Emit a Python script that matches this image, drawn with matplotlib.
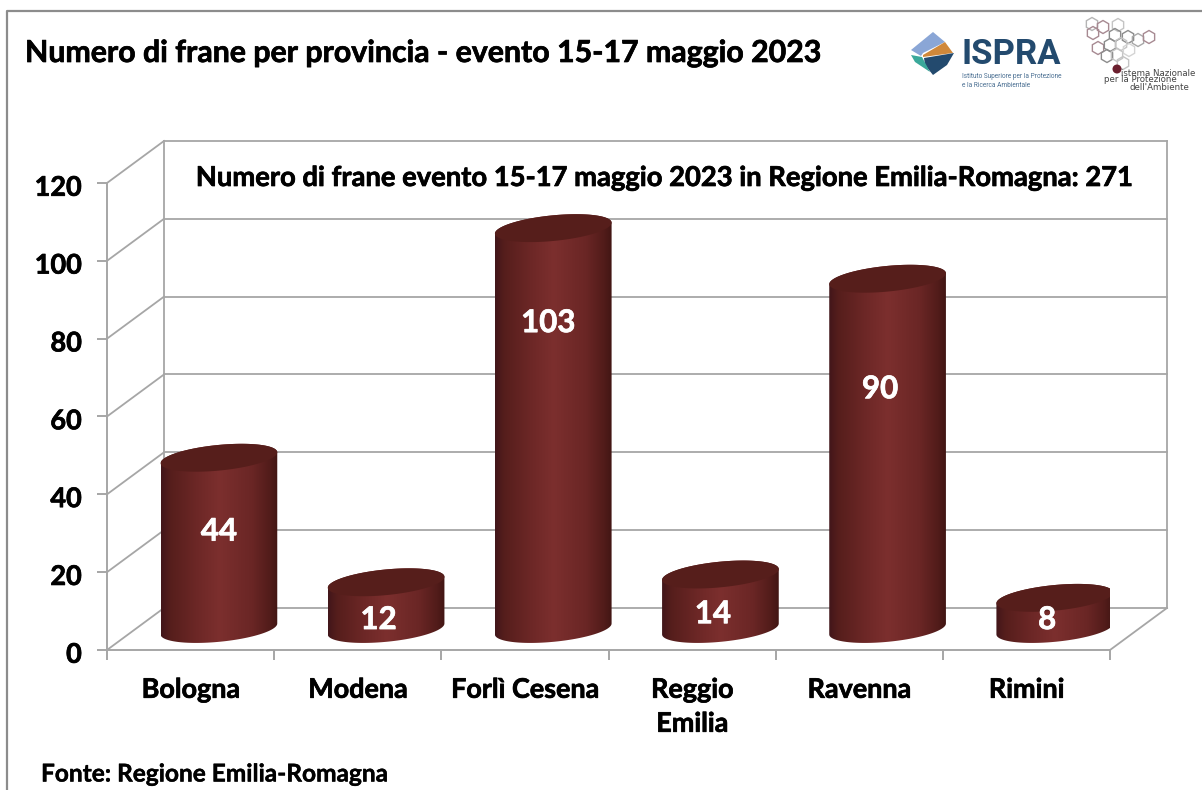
import numpy as np
import matplotlib
matplotlib.use('Agg')
import matplotlib.pyplot as plt
import matplotlib.patheffects as pe
from matplotlib.colors import LinearSegmentedColormap
from matplotlib.patches import Polygon, RegularPolygon, Circle
from matplotlib.transforms import ScaledTranslation

# Numero di frane per provincia
province = ['Bologna', 'Modena', 'Forlì Cesena', 'Reggio\nEmilia', 'Ravenna', 'Rimini']
frane = [44, 12, 103, 14, 90, 8]
yticks = [0, 20, 40, 60, 80, 100, 120]

title = 'Numero di frane per provincia - evento 15-17 maggio 2023'
subtitle = 'Numero di frane evento 15-17 maggio 2023 in Regione Emilia-Romagna: 271'
fonte = 'Fonte: Regione Emilia-Romagna'

plt.rcParams['font.family'] = ['Lato', 'DejaVu Sans']
GREY = '#a6a6a6'

def heavier(color='black', w=0.5):
    return [pe.withStroke(linewidth=w, foreground=color)]

fig = plt.figure(figsize=(12.02, 7.90), dpi=100, facecolor='white')

# overlay in pixels, for frame, logos and free text
px = fig.add_axes([0, 0, 1, 1])
px.set_xlim(0, 1202)
px.set_ylim(790, 0)
px.axis('off')

# front plane of the 3D box = real axes
ax = fig.add_axes([107/1202, (790-650)/790, 1003/1202, 467/790])
ax.patch.set_alpha(0)
ax.set_xlim(0, 6)
ax.set_ylim(0, 120)

# depth of the box (back wall) and of the cylinders, in data units
back_x, back_y = 0.341, 10.8
mid_x, mid_y = 0.1695, 5.4
rad_x, rad_b, rad_sh = 0.349, 3.3, 1.4

for s in ['top', 'right']:
    ax.spines[s].set_visible(False)
for s in ['left', 'bottom']:
    ax.spines[s].set_color(GREY)
    ax.spines[s].set_linewidth(1.4)

ax.set_yticks(yticks)
ax.set_yticklabels([str(v) for v in yticks], fontsize=19.5, fontweight='bold', color='black',
                   path_effects=heavier())
ax.tick_params(axis='y', length=7.2, width=1.4, color=GREY, pad=11)
# tick labels sit a little lower than the ticks
for lab in ax.get_yticklabels():
    lab.set_transform(lab.get_transform() + ScaledTranslation(0, -2/72, fig.dpi_scale_trans))
ax.set_xticks(range(7))
ax.set_xticklabels([])
ax.tick_params(axis='x', which='major', length=7.2, width=1.4, color=GREY)
ax.set_xticks(np.arange(6) + 0.5, minor=True)
ax.set_xticklabels(province, minor=True, fontsize=19.4, fontweight='bold', linespacing=1.5,
                   path_effects=heavier())
ax.tick_params(axis='x', which='minor', length=0, pad=20)

# walls
for v in yticks:
    ax.plot([0, back_x], [v, v + back_y], color=GREY, lw=1.3, clip_on=False, zorder=1)
    ax.plot([back_x, 6 + back_x], [v + back_y, v + back_y], color=GREY, lw=1.3, clip_on=False, zorder=1)
ax.plot([back_x, back_x], [back_y, 120 + back_y], color=GREY, lw=1.3, clip_on=False, zorder=1)
ax.plot([6 + back_x, 6 + back_x], [back_y, 120 + back_y], color=GREY, lw=1.3, clip_on=False, zorder=1)
ax.plot([6, 6 + back_x], [0, back_y], color=GREY, lw=1.3, clip_on=False, zorder=1)

# cylinders
cyl = LinearSegmentedColormap.from_list('cyl', [
    (0.0, '#42161a'), (0.08, '#561e1c'), (0.3, '#6c2726'), (0.5, '#7c2f2e'),
    (0.78, '#6a2625'), (0.93, '#521c1a'), (1.0, '#421614')])
grad = np.linspace(0, 1, 256).reshape(1, -1)
# the labels were placed by hand in the original
label_x = [0, -0.045, -0.03, -0.045, -0.045, -0.045]
label_y = [30.4, 7.7, 84, 9.2, 67, 7.7]

def ell(cx, cy, t):
    return np.column_stack([cx + rad_x*np.cos(t), cy + rad_sh*np.cos(t) + rad_b*np.sin(t)])

for i, v in enumerate(frane):
    cx = i + 0.5 + mid_x
    top = v + mid_y
    low = ell(cx, mid_y, np.linspace(np.pi, 2*np.pi, 60))
    up = ell(cx, top, np.linspace(0, np.pi, 60))
    body = Polygon(np.vstack([low, up]), closed=True, fc='none', ec='none', zorder=3)
    ax.add_patch(body)
    im = ax.imshow(grad, cmap=cyl, aspect='auto', zorder=3, interpolation='bilinear',
                   extent=[cx - rad_x, cx + rad_x, mid_y - 6, top + 6])
    im.set_clip_path(body)
    ax.add_patch(Polygon(ell(cx, top, np.linspace(0, 2*np.pi, 120)), closed=True,
                         fc='#561e1b', ec='none', zorder=4))
    ax.text(cx + label_x[i], label_y[i], str(v), color='white', fontsize=22.5, fontweight='bold',
            ha='center', va='center', zorder=5, path_effects=heavier('white'))
ax.set_xlim(0, 6)
ax.set_ylim(0, 120)

# frame and free text
px.plot([7, 7, 1202], [790, 11, 11], color='#8c8c8c', lw=1.6)
px.text(25, 53, title, fontsize=21.8, fontweight='bold', va='center', path_effects=heavier())
px.text(664, 178, subtitle, fontsize=19.7, fontweight='bold', va='center', ha='center', zorder=6,
        path_effects=heavier())
px.text(41, 774, fonte, fontsize=17.6, fontweight='bold', va='center', path_effects=heavier(w=0.3))

# logo ISPRA
px.add_patch(Polygon([(911, 50), (933, 32), (945, 42), (923, 53), (921, 56)], fc='#8aa6d6', ec='none'))
px.add_patch(Polygon([(923, 55), (945, 42), (953, 53), (923, 57)], fc='#d0883a', ec='none'))
px.add_patch(Polygon([(924, 58), (954, 53), (947, 65), (933, 75), (925, 65)], fc='#234a6e', ec='none'))
px.add_patch(Polygon([(911, 55), (922, 57), (930, 72), (915, 62)], fc='#3aa89a', ec='none'))
px.text(961, 54, 'ISPRA', fontsize=25, fontweight='bold', color='#234a6e', va='center', family='Roboto')
px.text(962, 76.5, 'Istituto Superiore per la Protezione', fontsize=4.7, color='#4a6f92', va='center', family='Roboto')
px.text(962, 85.5, 'e la Ricerca Ambientale', fontsize=4.7, color='#4a6f92', va='center', family='Roboto')

# logo SNPA
hex_x = [1092, 1103, 1118, 1093, 1115, 1128, 1138, 1149, 1098, 1110, 1121, 1107, 1117, 1129, 1123]
hex_y = [24, 27, 25, 33, 35, 37, 40, 37, 48, 45, 44, 56, 55, 50, 63]
hex_c = ['#b5b5b5', '#a78a92', '#c4c4c4', '#a78a92', '#8c8c8c', '#8c8c8c', '#a8a8a8', '#a78a92',
         '#a78a92', '#8c8c8c', '#c4c4c4', '#8c8c8c', '#c4c4c4', '#d4d4d4', '#c4c4c4']
for hx, hy, hc in zip(hex_x, hex_y, hex_c):
    px.add_patch(RegularPolygon((hx, hy), 6, radius=6.5, fc='none', ec=hc, lw=1))
px.add_patch(Circle((1117, 69), 4.5, fc='#6b1f2e', ec='none'))
px.text(1121, 73, 'istema Nazionale', fontsize=6.2, color='#444444', va='center', family='DejaVu Sans')
px.text(1104, 80, 'per la Protezione', fontsize=6.2, color='#444444', va='center', family='DejaVu Sans')
px.text(1130, 87, "dell'Ambiente", fontsize=6.2, color='#444444', va='center', family='DejaVu Sans')

fig.savefig('out.png', dpi=100)
